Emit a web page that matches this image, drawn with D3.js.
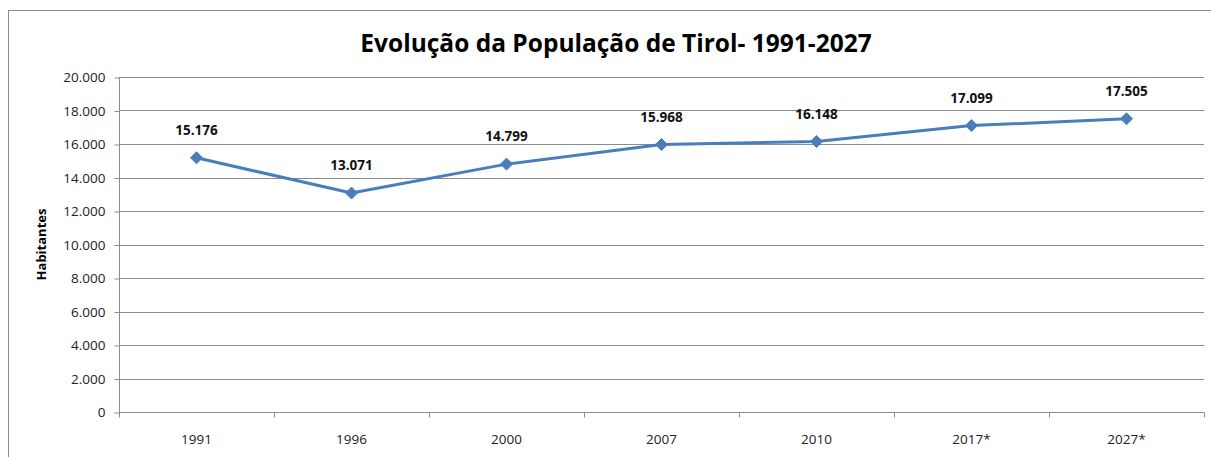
<!DOCTYPE html>
<html>
<head>
<meta charset="utf-8">
<script src="https://cdn.jsdelivr.net/npm/d3@7"></script>
<style>
  html, body { margin: 0; padding: 0; background: #fff; }
  svg { display: block; }
</style>
</head>
<body>
<svg id="chart" width="1211" height="457"></svg>
<script>
// Population of Tirol by year (* = projection)
const years = ["1991", "1996", "2000", "2007", "2010", "2017*", "2027*"];
const population = [15176, 13071, 14799, 15968, 16148, 17099, 17505];
const yTicks = [0, 2000, 4000, 6000, 8000, 10000, 12000, 14000, 16000, 18000, 20000];
const title = "Evolução da População de Tirol- 1991-2027";
const yTitle = "Habitantes";

const fmt = v => v === 0 ? "0" : d3.format(",")(v).replace(/,/g, ".");

const svg = d3.select("#chart");
const font = "'Open Sans', 'Liberation Sans', sans-serif";

// outer chart frame
svg.append("rect")
  .attr("x", 8.5).attr("y", 10.5)
  .attr("width", 1220).attr("height", 460)
  .attr("fill", "none").attr("stroke", "#8c8c8c").attr("stroke-width", 1);

const plot = { left: 119, right: 1204, top: 77, bottom: 412 };

const x = d3.scaleBand().domain(years).range([plot.left, plot.right]);
const y = d3.scaleLinear().domain([0, 20000]).range([plot.bottom, plot.top]);

// horizontal gridlines
svg.append("g")
  .selectAll("line")
  .data(yTicks.filter(d => d > 0))
  .join("line")
  .attr("x1", plot.left).attr("x2", plot.right)
  .attr("y1", d => Math.round(y(d)) + 0.5).attr("y2", d => Math.round(y(d)) + 0.5)
  .attr("stroke", "#8c8c8c").attr("stroke-width", 1);

// y axis
const yAxis = svg.append("g")
  .attr("transform", `translate(${plot.left + 0.5},0.5)`)
  .call(d3.axisLeft(y).tickValues(yTicks).tickFormat(fmt).tickSize(5).tickPadding(9));
yAxis.select(".domain").attr("stroke", "#8c8c8c").attr("d", `M0,${plot.top}V${plot.bottom}`);
yAxis.selectAll(".tick line").attr("stroke", "#8c8c8c");
yAxis.selectAll(".tick text")
  .attr("font-family", font).attr("font-size", 13.5).attr("fill", "#222");

// x axis with ticks at category boundaries
const xAxis = svg.append("g")
  .attr("transform", `translate(0,${plot.bottom + 0.5})`);
xAxis.append("line")
  .attr("x1", plot.left).attr("x2", plot.right)
  .attr("stroke", "#8c8c8c");
const bounds = years.map(d => x(d)).concat([plot.right]);
xAxis.selectAll("line.tk")
  .data(bounds)
  .join("line").attr("class", "tk")
  .attr("x1", d => Math.round(d) + 0.5).attr("x2", d => Math.round(d) + 0.5)
  .attr("y1", 0).attr("y2", 5)
  .attr("stroke", "#8c8c8c");
xAxis.selectAll("text")
  .data(years)
  .join("text")
  .attr("x", d => x(d) + x.bandwidth() / 2)
  .attr("y", 31)
  .attr("text-anchor", "middle")
  .attr("font-family", font).attr("font-size", 13.5).attr("fill", "#222")
  .text(d => d);

// series line
const cx = d => x(d) + x.bandwidth() / 2;
const line = d3.line()
  .x((d, i) => cx(years[i]))
  .y(d => y(d));
svg.append("path")
  .datum(population)
  .attr("d", line)
  .attr("fill", "none")
  .attr("stroke", "#4a7ebb").attr("stroke-width", 3)
  .attr("stroke-linejoin", "round");

// diamond markers
svg.append("g")
  .selectAll("path")
  .data(population)
  .join("path")
  .attr("transform", (d, i) => `translate(${cx(years[i])},${y(d)})`)
  .attr("d", "M0,-6L6,0L0,6L-6,0Z")
  .attr("fill", "#4a7ebb").attr("stroke", "#4a7ebb").attr("stroke-width", 1);

// value labels
svg.append("g")
  .selectAll("text")
  .data(population)
  .join("text")
  .attr("x", (d, i) => cx(years[i]))
  .attr("y", d => y(d) - 23)
  .attr("text-anchor", "middle")
  .attr("font-family", font).attr("font-size", 13.5).attr("font-weight", "bold").attr("fill", "#111")
  .text(fmt);

// titles
svg.append("text")
  .attr("x", 616).attr("y", 52)
  .attr("text-anchor", "middle")
  .attr("font-family", font).attr("font-size", 24.5).attr("font-weight", "bold").attr("fill", "#000")
  .text(title);

svg.append("text")
  .attr("transform", `translate(46,${(plot.top + plot.bottom) / 2}) rotate(-90)`)
  .attr("text-anchor", "middle")
  .attr("font-family", font).attr("font-size", 13).attr("font-weight", "bold").attr("fill", "#000")
  .text(yTitle);
</script>
</body>
</html>
